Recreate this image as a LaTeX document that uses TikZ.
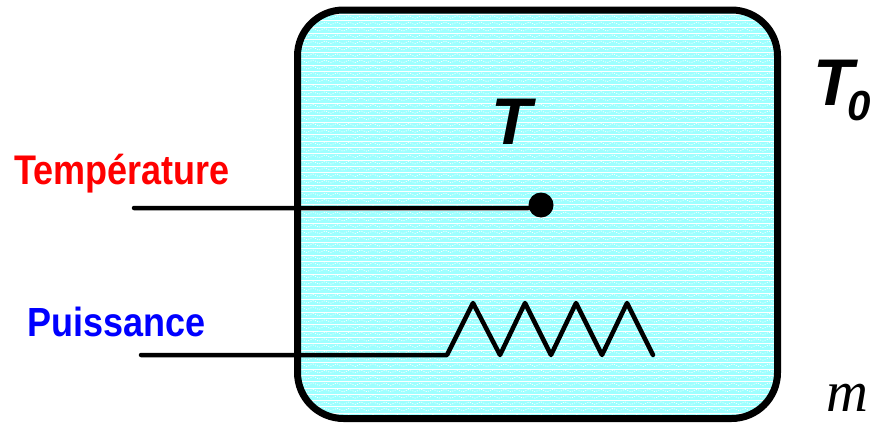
\documentclass[tikz,border=0pt]{standalone}
\usepackage{fontspec}
\setmainfont{Liberation Sans}
\newfontfamily\serifface{Liberation Serif}
\definecolor{tankfill}{HTML}{9DFFFF}
\tikzset{
  x=1pt,y=-1pt,
  tankoutline/.style={line width=7pt,line join=round},
  wire/.style={line width=4.5pt,line cap=round,line join=round},
  reslabel/.style={inner sep=0pt,anchor=base west,font=\bfseries\fontsize{36}{40}\selectfont},
  bigsym/.style={inner sep=0pt,anchor=base west,font=\bfseries\itshape\fontsize{66}{70}\selectfont},
}
\begin{document}
\begin{tikzpicture}
\useasboundingbox (0,0) rectangle (872,423);
\clip (0,0) rectangle (872,423);
\def\tankpath{[rounded corners=46pt] (297.5,10) rectangle (777.5,418.5)}
\begin{scope}
  \fill[tankfill] \tankpath;
  \clip \tankpath;
  \foreach \r in {0,...,65}{
    \pgfmathsetmacro{\yy}{8+6.33*\r}
    \draw[white,line width=0.6pt] (295,\yy) -- (780,\yy);
    \draw[white,line width=0.7pt,dash pattern=on 1pt off 1.4pt]
      (295,\yy+4) \foreach \k in {0,...,40}{ -- ++(6,-2.5) -- ++(6,2.5) };
  }
\end{scope}
\draw[tankoutline] \tankpath;

\coordinate (tempstart) at (134,208);
\node[circle,fill=black,minimum size=25pt,inner sep=0pt] (probe) at (541,205) {};
\draw[wire] (tempstart) -- (probe.west |- tempstart) -- (probe);

\coordinate (powerstart) at (141,355);
\coordinate (r0) at (447,355);
\coordinate (r1) at (473,303);
\coordinate (r2) at (500,355);
\coordinate (r3) at (525,303);
\coordinate (r4) at (551,355);
\coordinate (r5) at (576,303);
\coordinate (r6) at (602,355);
\coordinate (r7) at (627,303);
\coordinate (r8) at (653,355);
\draw[wire] (powerstart) -- (r0) -- (r1) -- (r2) -- (r3) -- (r4) -- (r5) -- (r6) -- (r7) -- (r8);

\node[reslabel,text=red] (templabel) at (14,184) {\scalebox{1}[1.15]{Température}};
\node[reslabel,text=blue] (powerlabel) at (27,336) {\scalebox{1}[1.13]{Puissance}};
\node[bigsym] (tsym) at (491,144) {T};
\node[bigsym] (tzero) at (813,105.5) {T\kern-6pt\raisebox{-15pt}{\fontsize{42}{46}\selectfont 0}};
\node[inner sep=0pt,anchor=base west,font=\serifface\itshape\fontsize{58}{62}\selectfont] (mass) at (826,411) {m};
\end{tikzpicture}
\end{document}
